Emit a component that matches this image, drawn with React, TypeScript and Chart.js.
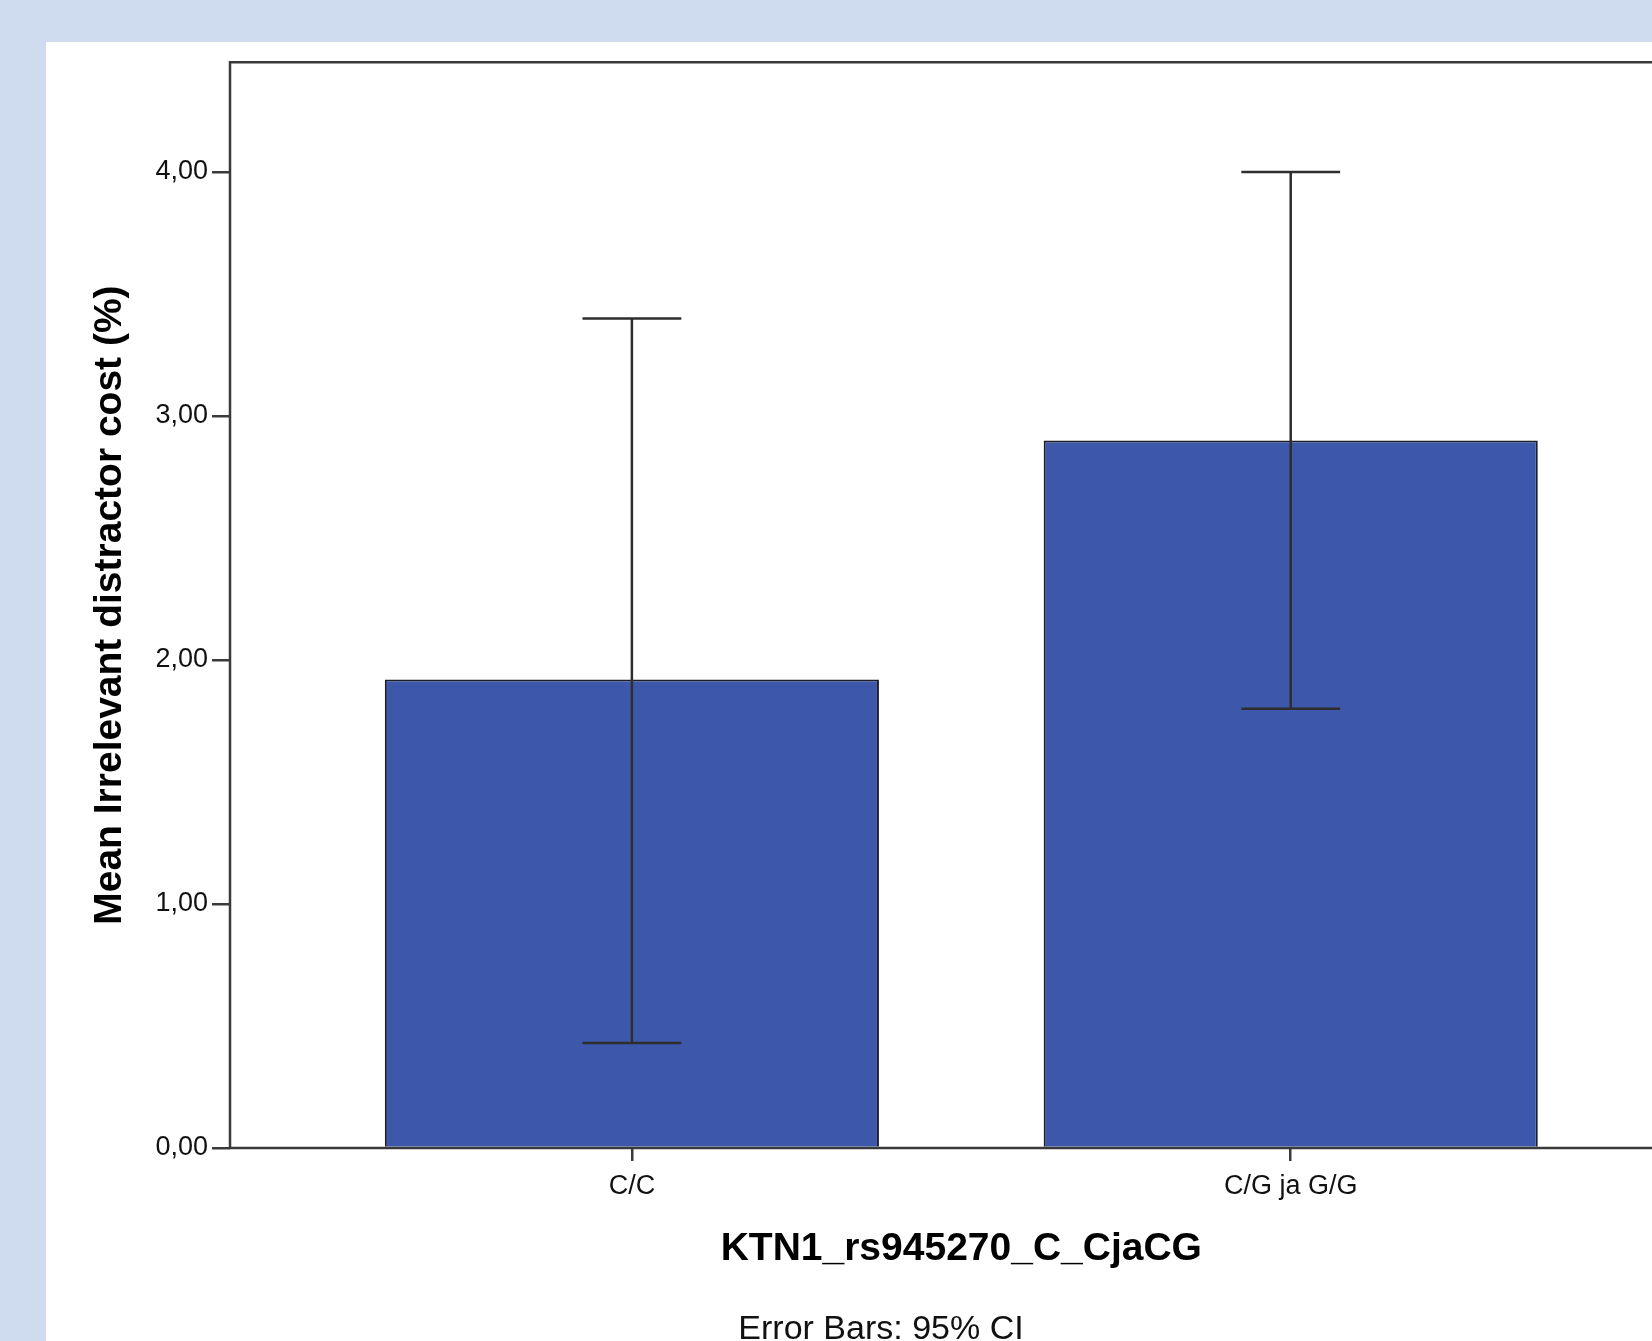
import React, { useEffect, useRef } from "react";
import { Chart, registerables } from "chart.js";

Chart.register(...registerables);

const categories = ["C/C", "C/G ja G/G"];
const means = [1.92, 2.9];
const ciLower = [0.43, 1.8];
const ciUpper = [3.4, 4.0];
const yTicks = [0, 1, 2, 3, 4];
const xAxisTitle = "KTN1_rs945270_C_CjaCG";
const yAxisTitle = "Mean Irrelevant distractor cost (%)";
const footnote = "Error Bars: 95% CI";

const FONT = "'Liberation Sans', Arial, Helvetica, sans-serif";
const formatTick = (v: number) => v.toFixed(2).replace(".", ",");

const framePlugin = {
  id: "frame",
  afterDatasetsDraw(chart: any) {
    const { ctx, chartArea } = chart;
    ctx.save();
    ctx.strokeStyle = "#3a3a3a";
    ctx.lineWidth = 2.5;
    ctx.beginPath();
    ctx.moveTo(chartArea.left, chartArea.bottom);
    ctx.lineTo(chartArea.left, chartArea.top);
    ctx.lineTo(chartArea.right, chartArea.top);
    ctx.moveTo(chartArea.left, chartArea.bottom);
    ctx.lineTo(chartArea.right, chartArea.bottom);
    ctx.stroke();
    ctx.restore();
  },
};

const errorBarPlugin = {
  id: "errorBars",
  afterDatasetsDraw(chart: any) {
    const { ctx } = chart;
    const x = chart.scales.x;
    const y = chart.scales.y;
    const capHalf = Math.abs(x.getPixelForValue(0.075) - x.getPixelForValue(0));
    ctx.save();
    ctx.strokeStyle = "#2e2e2e";
    ctx.lineWidth = 2.5;
    categories.forEach((_, i) => {
      const px = x.getPixelForValue(i);
      const lo = y.getPixelForValue(ciLower[i]);
      const hi = y.getPixelForValue(ciUpper[i]);
      ctx.beginPath();
      ctx.moveTo(px, lo);
      ctx.lineTo(px, hi);
      ctx.moveTo(px - capHalf, hi);
      ctx.lineTo(px + capHalf, hi);
      ctx.moveTo(px - capHalf, lo);
      ctx.lineTo(px + capHalf, lo);
      ctx.stroke();
    });
    ctx.restore();
  },
};

const footnotePlugin = {
  id: "footnote",
  afterDraw(chart: any) {
    const { ctx } = chart;
    const xScale = chart.scales.x;
    ctx.save();
    ctx.fillStyle = "#111";
    ctx.font = `normal 34px ${FONT}`;
    ctx.textAlign = "center";
    ctx.textBaseline = "middle";
    ctx.fillText(footnote, chart.width / 2, xScale.bottom + 41.5);
    ctx.restore();
  },
};

export default function App() {
  const canvasRef = useRef<HTMLCanvasElement | null>(null);

  useEffect(() => {
    const canvas = canvasRef.current;
    if (!canvas) return;
    const chart = new Chart(canvas, {
      type: "bar",
      data: {
        datasets: [
          {
            label: "Mean",
            data: categories.map((_, i) => ({ x: i, y: means[i] })),
            backgroundColor: "#3d58aa",
            borderColor: "#1c1c2a",
            borderWidth: 2,
            categoryPercentage: 1,
            barPercentage: 0.75,
          },
        ],
      },
      options: {
        animation: false,
        responsive: false,
        devicePixelRatio: 1,
        layout: { padding: { top: 18, left: 0, right: 23.4, bottom: 72 } },
        plugins: {
          legend: { display: false },
          tooltip: { enabled: false },
          title: { display: false },
        },
        scales: {
          x: {
            type: "linear",
            offset: false,
            min: -0.61,
            max: 1.61,
            afterBuildTicks: (scale: any) => {
              scale.ticks = categories.map((_, i) => ({ value: i }));
            },
            afterFit: (scale: any) => {
              scale.height = 140;
            },
            ticks: {
              autoSkip: false,
              maxRotation: 0,
              padding: 9,
              color: "#111",
              font: { family: FONT, size: 27, lineHeight: 1.2 },
              callback: (v: any) => categories[Math.round(Number(v))] ?? "",
            },
            grid: {
              offset: false,
              drawOnChartArea: false,
              drawTicks: true,
              tickLength: 13,
              tickColor: "#3a3a3a",
              lineWidth: 2.5,
            },
            border: { display: false },
            title: {
              display: true,
              text: xAxisTitle,
              color: "#000",
              font: { family: FONT, size: 39, weight: "bold", lineHeight: 1.2 },
              padding: { top: 0, bottom: 15 },
            },
          },
          y: {
            type: "linear",
            min: 0,
            max: 4.45,
            afterBuildTicks: (scale: any) => {
              scale.ticks = yTicks.map((v) => ({ value: v }));
            },
            afterFit: (scale: any) => {
              scale.width = 184;
            },
            ticks: {
              padding: 4,
              color: "#111",
              font: { family: FONT, size: 27, lineHeight: 1.2 },
              callback: (v: any) => formatTick(Number(v)),
            },
            grid: {
              drawOnChartArea: false,
              drawTicks: true,
              tickLength: 18,
              tickColor: "#3a3a3a",
              lineWidth: 2.5,
            },
            border: { display: false },
            title: {
              display: true,
              text: yAxisTitle,
              color: "#000",
              font: { family: FONT, size: 39, weight: "bold", lineHeight: 1.2 },
              padding: { top: 41, bottom: 0 },
            },
          },
        },
      },
      plugins: [framePlugin, errorBarPlugin, footnotePlugin],
    } as any);
    return () => chart.destroy();
  }, []);

  return (
    <div
      style={{
        position: "fixed",
        left: 0,
        top: 0,
        width: "100vw",
        height: "100vh",
        overflow: "hidden",
        background: "#cfdbef",
      }}
    >
      <div
        style={{
          position: "absolute",
          left: 46,
          top: 42,
          right: 0,
          bottom: 0,
          overflow: "hidden",
          background: "#ffffff",
        }}
      >
        <canvas
          ref={canvasRef}
          width={1670}
          height={1318}
          style={{ position: "absolute", left: 0, top: 0, width: 1670, height: 1318 }}
        />
      </div>
    </div>
  );
}
